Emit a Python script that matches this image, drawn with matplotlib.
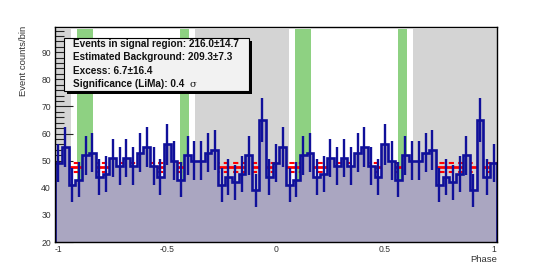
import numpy as np
import matplotlib
matplotlib.use("Agg")
import matplotlib.pyplot as plt
from matplotlib.patches import Rectangle

# ---------------- data ----------------
# counts per phase bin (bins of 1/32 centred on k/32, k = -32..32)
counts_left = [49, 55, 41, 43, 52, 53, 44, 45, 51, 48, 51, 48, 53, 55, 48, 44,
               56, 50, 43, 52, 50, 50, 53, 54, 41, 44, 42, 45, 52, 39, 65, 44]
counts = counts_left + counts_left + [counts_left[0]]
n_bins = len(counts)
bin_width = 1.0 / 32
phase_min = -1 - bin_width / 2
phase_max = 1 + bin_width / 2

off_regions = [(-1.2, -0.94), (-0.372, 0.060), (0.628, 1.2)]
signal_regions = [(-0.913, -0.839), (-0.440, -0.400), (0.087, 0.161), (0.560, 0.600)]
bg_level = 47.6
bg_err = 1.65

legend_lines = ["Events in signal region: 216.0\u00b114.7",
                "Estimated Background: 209.3\u00b17.3",
                "Excess: 6.7\u00b116.4",
                "Significance (LiMa): 0.4"]
x_tick_vals = [-1, -0.5, 0, 0.5, 1]
x_tick_labels = ["-1", "-0.5", "0", "0.5", "1"]

y_min, y_max = 20, 99.3
band_top = 98.6

# ---------------- style ----------------
blue = "#10109a"
fill_col = "#aaa6c1"
gray_col = "#d4d4d4"
green_col = "#8ed182"
plt.rcParams['font.family'] = ['Liberation Sans', 'DejaVu Sans']

fig = plt.figure(figsize=(5.52, 2.69), dpi=100)
ax = fig.add_axes([55 / 552, 1 - 242 / 269, 442 / 552, 215 / 269])
ax.set_xlim(phase_min, phase_max)
ax.set_ylim(y_min, y_max)

frac_top = (band_top - y_min) / (y_max - y_min)
for a, b in off_regions:
    ax.axvspan(a, b, ymin=0, ymax=frac_top, color=gray_col, lw=0, zorder=0)
for a, b in signal_regions:
    ax.axvspan(a, b, ymin=0, ymax=frac_top, color=green_col, lw=0, zorder=0.5)

ax.axhline(bg_level, color="red", lw=2.0, zorder=1)
ax.axhline(bg_level + bg_err, color="red", lw=1.5, ls=(0, (2.5, 2)), zorder=1)
ax.axhline(bg_level - bg_err, color="red", lw=1.5, ls=(0, (2.5, 2)), zorder=1)

edges = np.linspace(phase_min, phase_max, n_bins + 1)
centers = 0.5 * (edges[:-1] + edges[1:])
vals = np.array(counts, dtype=float)

ax.stairs(vals, edges, baseline=0, fill=True, color=fill_col, lw=0, zorder=2)
ax.stairs(vals, edges, baseline=0, color=blue, lw=1.9, zorder=3)
ax.errorbar(centers, vals, yerr=np.sqrt(vals), fmt='none', ecolor=blue,
            elinewidth=1.7, capsize=0, zorder=3)

# axes / ticks, ROOT style
for s in ax.spines.values():
    s.set_color("black")
    s.set_linewidth(1.0)
    s.set_zorder(5)
ax.set_xticks(x_tick_vals)
ax.set_xticklabels(x_tick_labels)
ax.set_xticks(np.arange(-1, 1.001, 0.1), minor=True)
ax.set_yticks(np.arange(20, 91, 10))
ax.set_yticks(np.arange(20, 99, 2), minor=True)
ax.tick_params(axis='x', which='major', direction='in', length=6.5, width=0.8,
               labelsize=6.2, pad=2, colors='#222222')
ax.tick_params(axis='x', which='minor', direction='in', length=3.3, width=0.8, colors='#222222')
ax.tick_params(axis='y', which='major', direction='in', length=13, width=0.8,
               labelsize=6.2, pad=3, colors='#222222')
ax.tick_params(axis='y', which='minor', direction='in', length=6.6, width=0.8, colors='#222222')
for t in ax.get_xticklabels() + ax.get_yticklabels():
    t.set_color('#333333')
    t.set_zorder(6)

fig.text(497 / 552, 1 - 259 / 269, "Phase", fontsize=6.8, color='#333333',
         ha='right', va='center')
fig.text(23 / 552, 1 - 26 / 269, "Event counts/bin", fontsize=6.8, color='#333333',
         rotation=90, ha='center', va='top')

# legend box with ROOT-like shadow
x0, y0, x1, y1 = 64, 38, 249, 91
shadow = Rectangle(((x0 + 3) / 552, 1 - (y1 + 3) / 269), (x1 - x0) / 552, (y1 - y0) / 269,
                   transform=fig.transFigure, facecolor='black', edgecolor='none', zorder=7)
box = Rectangle((x0 / 552, 1 - y1 / 269), (x1 - x0) / 552, (y1 - y0) / 269,
                transform=fig.transFigure, facecolor='#f2f2f2', edgecolor='black',
                lw=0.8, zorder=8)
fig.add_artist(shadow)
fig.add_artist(box)
line_y = [44.3, 57.3, 70.7, 84.3]
for txt, yy in zip(legend_lines, line_y):
    fig.text(73 / 552, 1 - yy / 269, txt, fontsize=7.2, fontweight='bold',
             ha='left', va='center', zorder=9, color='#111111')
fig.text(189 / 552, 1 - 84.3 / 269, "\u03c3", fontsize=7.2, ha='left', va='center',
         zorder=9, color='#111111', family=['DejaVu Serif'])

fig.savefig("out.png", dpi=100)
